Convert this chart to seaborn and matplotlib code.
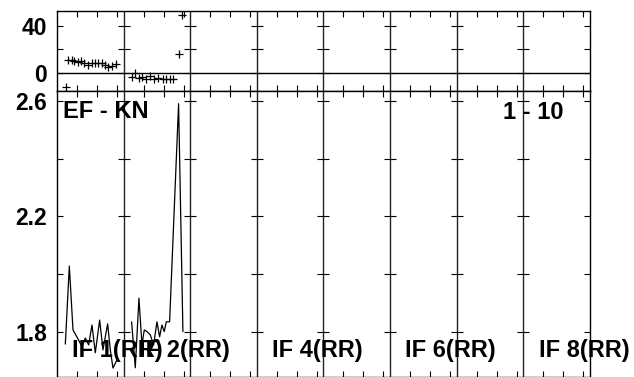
import numpy as np
import pandas as pd
import matplotlib
matplotlib.use("Agg")
import matplotlib.pyplot as plt
import seaborn as sns

# ---------------- data ----------------
n_if = 8
baseline_label = "EF - KN"
range_label = "1 - 10"
if_label_ids = [1, 2, 4, 6, 8]
if_labels = ["IF 1(RR)", "IF 2(RR)", "IF 4(RR)", "IF 6(RR)", "IF 8(RR)"]

# amplitude (position within IF, 0..10)
if1_amp_x = [1.25, 1.85, 2.4, 3.1, 3.75, 4.25, 4.75, 5.25, 5.75, 6.4, 6.9, 7.6, 8.0, 8.4, 9.0]
if1_amp = [1.758, 2.028, 1.807, 1.778, 1.749, 1.779, 1.755, 1.824, 1.728, 1.841, 1.738, 1.828, 1.738, 1.675, 1.703]
if2_amp_x = [1.2, 1.75, 2.3, 2.75, 3.1, 3.5, 4.0, 4.5, 5.0, 5.4, 5.75, 6.1, 6.4, 6.9, 8.25, 8.9]
if2_amp = [1.835, 1.676, 1.917, 1.755, 1.807, 1.801, 1.79, 1.755, 1.835, 1.783, 1.824, 1.801, 1.835, 1.835, 2.59, 1.801]

# phase (degrees)
if1_ph_x = [1.3, 1.7, 2.2, 2.6, 3.1, 3.6, 4.1, 4.7, 5.2, 5.7, 6.2, 6.7, 7.2, 7.7, 8.3, 8.8]
if1_ph = [-12.5, 10.9, 10.9, 10.3, 9.4, 10.3, 8.0, 6.3, 8.0, 8.0, 8.0, 8.0, 6.3, 5.2, 5.5, 7.2]
if2_ph_x = [1.3, 1.65, 2.3, 2.8, 3.4, 3.9, 4.6, 5.1, 5.9, 6.4, 6.9, 7.4, 8.25, 8.75]
if2_ph = [-3.4, -0.5, -4.8, -3.4, -5.4, -2.8, -5.7, -4.8, -5.4, -5.4, -5.4, -5.4, 16.0, 49.5]

amp_df = pd.DataFrame({
    "x": [v for v in if1_amp_x] + [10 + v for v in if2_amp_x],
    "amp": if1_amp + if2_amp,
    "IF": [1] * len(if1_amp) + [2] * len(if2_amp),
})
ph_df = pd.DataFrame({
    "x": [v for v in if1_ph_x] + [10 + v for v in if2_ph_x],
    "phase": if1_ph + if2_ph,
    "IF": [1] * len(if1_ph) + [2] * len(if2_ph),
})

# ---------------- style ----------------
sns.set_theme(style="white")
plt.rcParams["font.family"] = ["Liberation Sans", "DejaVu Sans"]
plt.rcParams["font.weight"] = "bold"
for k in ("text.color", "axes.labelcolor", "xtick.color", "ytick.color", "axes.edgecolor"):
    plt.rcParams[k] = "black"

fig = plt.figure(figsize=(6.34, 3.77), dpi=100)
left, width = 0.0899, 0.8407
ax_ph = fig.add_axes([left, 0.7594, width, 0.2122])
ax_amp = fig.add_axes([left, 0.0, width, 0.7594])

sns.lineplot(data=amp_df, x="x", y="amp", units="IF", estimator=None,
             color="black", linewidth=0.9, ax=ax_amp, legend=False)
sns.scatterplot(data=ph_df, x="x", y="phase", marker="+", color="black",
                s=30, linewidth=0.9, ax=ax_ph, legend=False)

xt = [10 * i + t for i in range(n_if) for t in (3, 6, 9)]
boundaries = [10 * i for i in range(1, n_if)]

for ax, ylim, yt, ylab in [
    (ax_ph, (-15.5, 53.0), [0, 20, 40], ["0", "", "40"]),
    (ax_amp, (1.644, 2.635), [1.8, 2.0, 2.2, 2.4, 2.6], ["1.8", "", "2.2", "", "2.6"]),
]:
    ax.set_xlim(0, 10 * n_if)
    ax.set_ylim(*ylim)
    ax.set_xticks(xt)
    ax.set_xticklabels([])
    ax.set_yticks(yt)
    ax.set_yticklabels(ylab, fontsize=16.5, fontweight="bold", color="black")
    ax.set_xlabel("")
    ax.set_ylabel("")
    ax.tick_params(axis="x", direction="in", top=True, bottom=True, length=4,
                   width=0.8, color="black", labelbottom=False)
    ax.tick_params(axis="y", direction="in", left=True, right=True, length=4.5,
                   width=0.8, color="black", pad=7)
    for s in ax.spines.values():
        s.set_color("black")
        s.set_linewidth(1.0)
    for b in boundaries:
        ax.axvline(b, color="#222222", lw=1.0, zorder=1)
        ax.plot([b] * len(yt), yt, ls="none", marker="_", ms=8, mew=0.8,
                color="black", zorder=1)

ax_ph.axhline(0, color="black", lw=1.0)

ax_amp.text(0.9, 2.539, baseline_label, fontsize=17, fontweight="bold",
            ha="left", va="baseline", color="black")
ax_amp.text(75.95, 2.537, range_label, fontsize=17, fontweight="bold",
            ha="right", va="baseline", color="black")
for i, lab in zip(if_label_ids, if_labels):
    ax_amp.text(10 * (i - 1) + 2.3, 1.712, lab, fontsize=17, fontweight="bold",
                ha="left", va="baseline", color="black")

fig.savefig("out.png", dpi=100)
